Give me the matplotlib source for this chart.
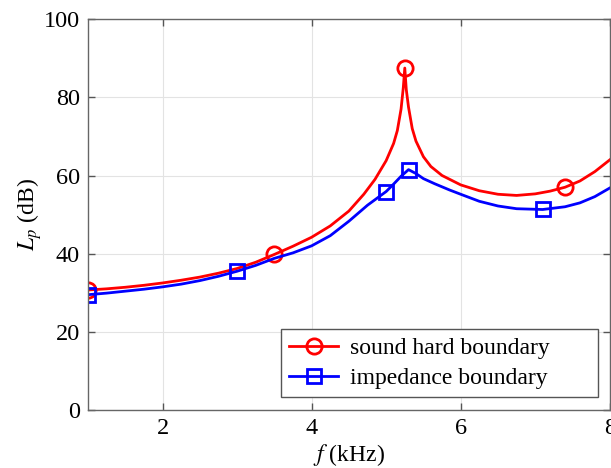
import numpy as np
import matplotlib
matplotlib.use('Agg')
import matplotlib.pyplot as plt

plt.rcParams['font.family'] = ['Liberation Serif', 'DejaVu Serif']
plt.rcParams['mathtext.fontset'] = 'stix'

# sound hard boundary (red)
f_hard = [1.0, 1.25, 1.5, 1.75, 2.0, 2.25, 2.5, 2.75, 3.0, 3.25, 3.5, 3.75, 4.0,
          4.25, 4.5, 4.7, 4.85, 5.0, 5.1, 5.15, 5.2, 5.23, 5.25, 5.27, 5.3, 5.35,
          5.4, 5.5, 5.6, 5.75, 6.0, 6.25, 6.5, 6.75, 7.0, 7.2, 7.4, 7.6, 7.8, 8.0]
lp_hard = [30.7, 31.0, 31.4, 31.9, 32.5, 33.2, 34.0, 35.0, 36.2, 37.8, 39.8, 41.9,
           44.2, 47.1, 50.9, 55.2, 59.0, 63.8, 68.2, 71.5, 77.0, 82.5, 87.5, 82.0,
           77.5, 72.0, 68.8, 64.8, 62.3, 60.0, 57.6, 56.1, 55.2, 54.9, 55.3, 56.0,
           57.0, 58.6, 61.0, 64.0]
f_hard_marks = [1.0, 3.5, 5.25, 7.4]

# impedance boundary (blue)
f_imp = [1.0, 1.25, 1.5, 1.75, 2.0, 2.25, 2.5, 2.75, 3.0, 3.25, 3.5, 3.75, 4.0,
         4.25, 4.5, 4.75, 5.0, 5.1, 5.2, 5.3, 5.4, 5.5, 5.65, 5.85, 6.0, 6.25,
         6.5, 6.75, 7.1, 7.4, 7.6, 7.8, 8.0]
lp_imp = [29.5, 29.9, 30.4, 30.9, 31.5, 32.2, 33.1, 34.2, 35.5, 37.0, 38.8, 40.2,
          42.0, 44.6, 48.3, 52.4, 55.9, 57.8, 59.8, 61.5, 60.5, 59.2, 57.9, 56.3,
          55.2, 53.4, 52.2, 51.5, 51.3, 52.0, 53.0, 54.6, 56.8]
f_imp_marks = [1.0, 3.0, 5.0, 5.3, 7.1]

mk_hard = [f_hard.index(v) for v in f_hard_marks]
mk_imp = [f_imp.index(v) for v in f_imp_marks]

fig = plt.figure(figsize=(6.11, 4.68), dpi=100)
ax = fig.add_axes([0.144, 0.124, 0.854, 0.835])

ax.plot(f_hard, lp_hard, color='#ff0000', lw=2.0, marker='o', markevery=mk_hard,
        ms=11, mfc='none', mew=2.0, label='sound hard boundary')
ax.plot(f_imp, lp_imp, color='#0000ff', lw=2.0, marker='s', markevery=mk_imp,
        ms=9.5, mfc='none', mew=2.0, label='impedance boundary')

ax.set_xlim(1, 8)
ax.set_ylim(0, 100)
ax.set_xticks([2, 4, 6, 8])
ax.set_yticks([0, 20, 40, 60, 80, 100])
ax.grid(True, color='#e3e3e3', lw=0.8)
ax.set_axisbelow(True)
ax.tick_params(direction='in', top=True, right=True, length=5, width=1,
               color='#555555', labelsize=17.5, pad=6)
for s in ax.spines.values():
    s.set_color('#666666')
    s.set_linewidth(1.0)

ax.set_xlabel(r'$f$ (kHz)', fontsize=17, labelpad=2)
ax.set_ylabel(r'$L_p$ (dB)', fontsize=17, labelpad=-0.5)

# legend box is wider than its text, as in the original
leg = ax.legend(loc='lower left', bbox_to_anchor=(0.370, 0.033, 0.607, 0.167),
                mode='expand', fontsize=17, fancybox=False, framealpha=1,
                edgecolor='#555555', handlelength=2.05, borderpad=0.35,
                labelspacing=0.35, handletextpad=0.5, borderaxespad=0)
leg.get_frame().set_linewidth(1.0)

fig.savefig('out.png', dpi=100)
